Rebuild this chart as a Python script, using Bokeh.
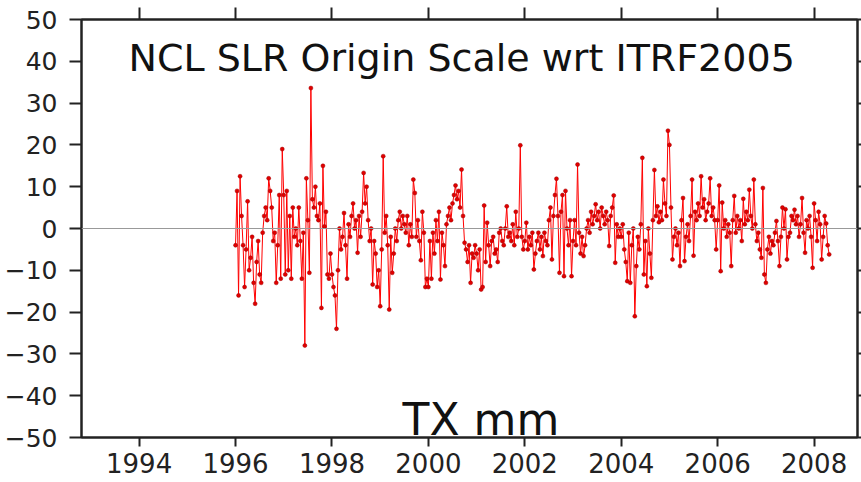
import numpy as np
from bokeh.plotting import figure
from bokeh.models import (LinearAxis, Span, Label, FixedTicker, ColumnDataSource,
                          CustomLabelingPolicy)
from bokeh.embed import file_html
from bokeh.resources import INLINE

# TX origin offset (mm), roughly 32 solutions per year
tx_1996 = [-4, 9, -16, 12.5, 3, -4, -14, -5, 6.5, -10, -7, -2, -13, -18, -8, -3,
           -11, -13, -1, 3, 5, 2, 12, 9, 5, -3, -1, -13, -4, 8, -12, 19]
tx_1997 = [8, -11, 9, -10, 3, -12, 5, -2, 0, -4, 5, -3, -12, -1, -28, 12,
           2, -10.6, 33.6, 7, 5, 10, 3, 2, 6, -19, 15, 0.5, 4, -11, -12, -6]
tx_1998 = [-11, -14, -16, -24, -10, 0, -5, -2, 3.7, -4, -12, 1, -2, 3, 6, 0,
           2, -5.8, 3, -2, 4, 13.3, 6, 10, 2, -3, 0, -13.4, -3, -6, -14, -10]
tx_1999 = [-18.6, -5, 17.3, -1, 3, -4, -19.4, -2, -10.6, -6, 0, -3, 2, 4, 0, 3,
           1, -1, 3, -4, 1, -2, 11.7, 8.5, -2, 2, -3, -7.6, 4, -1, -14, -12]
tx_2000 = [-14, -3, -12, -1, -6, 2, -3, 4, -12.2, -1, -4, -9, 1, 3, 5, 2,
           6, 8, 10.3, 7, 9, 5, 14.1, 3, -3.4, -5, -8, -4, -13, -6, -7, -4]
tx_2001 = [-6, -10, -5, -14.6, -14, 5.5, -8, 1.4, -4, -9, -3, -2, -6, -5, -8, -1,
           0, -3, -4, 0, 5.3, -2, -1, -3, 1, -4, 4, -2, 0, 19.9, -2, -5]
tx_2002 = [-3, 1.4, -5, -2, -4, -1, -9.8, -6, -3, -1, -5, -2, -6.6, -1, -3, -4,
           2, 5, -7.4, 3, 8, 11.9, 3, -10.6, 4, 8, -11.4, 9, 0, -4, 2, -11.4]
tx_2003 = [-3, 2, -4, 15.3, -1, -6, -2, -6.6, -4, 0, 2, -1, 4, 1, 3, 5.8,
           2, 4, 0, 5, 3, 1, 4, 2, -4.2, 3, 5, 7.9, -8.2, 1, -2, 0]
tx_2004 = [-2, 1, -5, -8, -12.6, -1, -13, -4, 0, -21, -9, -2, -5, 1, 16.9, -11,
           -3, -13.8, 0, -6, -11.8, 2, 14, 3, 5.3, 1.5, 4, 2, 11.7, 6, 3, 23.4]
tx_2005 = [20, 5, -7.4, -2, 0, -4, -1, -9, 2, 7.3, -7.8, -2, 1, -3, 3, 11.7,
           -6.5, 4, 2, 6, 3, 12.5, 5, 7, 2, 4, 6, 12, 3, 5, 2, -5]
tx_2006 = [2, 10.3, -10.2, 6.2, 0, 2, -2, 1, -1, -9, 2, 7.8, -1, 3, 0, 2,
           -3, 7.1, 1, 4, 2, 9.3, 3, 0, 11.7, 1, -3, -1, -5, -7, 9.7, -11]
tx_2007 = [-13, -5, -2, -6, -3, -4, -1, 1.8, -3, -9, -2, 5, 0, 4.6, -7.4, -2,
           -1, 3, 2, 4.5, 1, 3, -2, 1, 7.3, -1, -5.8, 2, 0, 3, -2, -9.4]
tx_2008 = [6, 2, -3, 4, 1, -7.4, -2, 3, 1.2, -4, -6.2]

years = [1996, 1997, 1998, 1999, 2000, 2001, 2002, 2003, 2004, 2005, 2006, 2007, 2008]
yearly = [tx_1996, tx_1997, tx_1998, tx_1999, tx_2000, tx_2001, tx_2002,
          tx_2003, tx_2004, tx_2005, tx_2006, tx_2007, tx_2008]
per_year = 32

x_ticks = [1994, 1996, 1998, 2000, 2002, 2004, 2006, 2008]
y_ticks = [-50, -40, -30, -20, -10, 0, 10, 20, 30, 40, 50]
title_text = "NCL SLR Origin Scale wrt ITRF2005"
unit_text = "TX mm"

dates, vals = [], []
for yr, lst in zip(years, yearly):
    for i, v in enumerate(lst):
        dates.append(yr + i / per_year)
        vals.append(v)
src = ColumnDataSource(data=dict(t=dates, tx=vals))

p = figure(width=861, height=482, x_range=(1992.805, 2008.9), y_range=(-50, 50),
           output_backend="svg", toolbar_location=None,
           min_border_left=81, min_border_right=4, min_border_top=19, min_border_bottom=45)
p.background_fill_color = "white"
p.border_fill_color = "white"
p.outline_line_color = "#222222"
p.outline_line_width = 2
p.xgrid.grid_line_color = None
p.ygrid.grid_line_color = None

FONT = "DejaVu Sans"

bottom = p.below[0]
left = p.left[0]
top = LinearAxis()
right = LinearAxis()
p.add_layout(top, "above")
p.add_layout(right, "right")

for ax in [bottom, top]:
    ax.ticker = FixedTicker(ticks=x_ticks)
for ax in [left, right]:
    ax.ticker = FixedTicker(ticks=y_ticks)

for ax in [bottom, left, top, right]:
    ax.axis_line_color = "#222222"
    ax.axis_line_width = 2
    ax.major_tick_line_color = "#222222"
    ax.major_tick_line_width = 2
    ax.minor_tick_line_color = None
    ax.major_tick_in = 0
    ax.major_label_text_font = FONT
    ax.major_label_text_color = "#222222"

bottom.major_tick_out = 9
bottom.major_label_text_font_size = "26px"
bottom.major_label_standoff = 6
left.major_tick_out = 12
left.major_label_text_font_size = "25px"
left.major_label_standoff = 12

# mirror axes: ticks only, their labels are filtered out and take no room
no_labels = CustomLabelingPolicy(code="""
const all = Array.from(indices.ones())
for (const i of all) { indices.unset(i) }
return indices
""")
for ax, out in [(top, 12), (right, 4)]:
    ax.major_tick_out = out
    ax.major_label_standoff = 0
    ax.major_label_text_font_size = "0px"
    ax.major_label_policy = no_labels

p.add_layout(Span(location=0, dimension="width", line_color="#999999", line_width=1))

p.line("t", "tx", source=src, line_color="#ff0000", line_width=1)
p.scatter("t", "tx", source=src, size=4, fill_color="#e00000",
          line_color="#a00000", line_width=0.5)

p.add_layout(Label(x=2000.69, y=40.7, text=title_text, text_align="center",
                   text_baseline="alphabetic", text_font=FONT, text_font_size="38px",
                   text_color="#111111"))
p.add_layout(Label(x=2001.09, y=-45.7, text=unit_text, text_align="center",
                   text_baseline="alphabetic", text_font=FONT, text_font_size="44px",
                   text_color="#111111"))

open("out.html", "w").write(file_html(p, INLINE))
